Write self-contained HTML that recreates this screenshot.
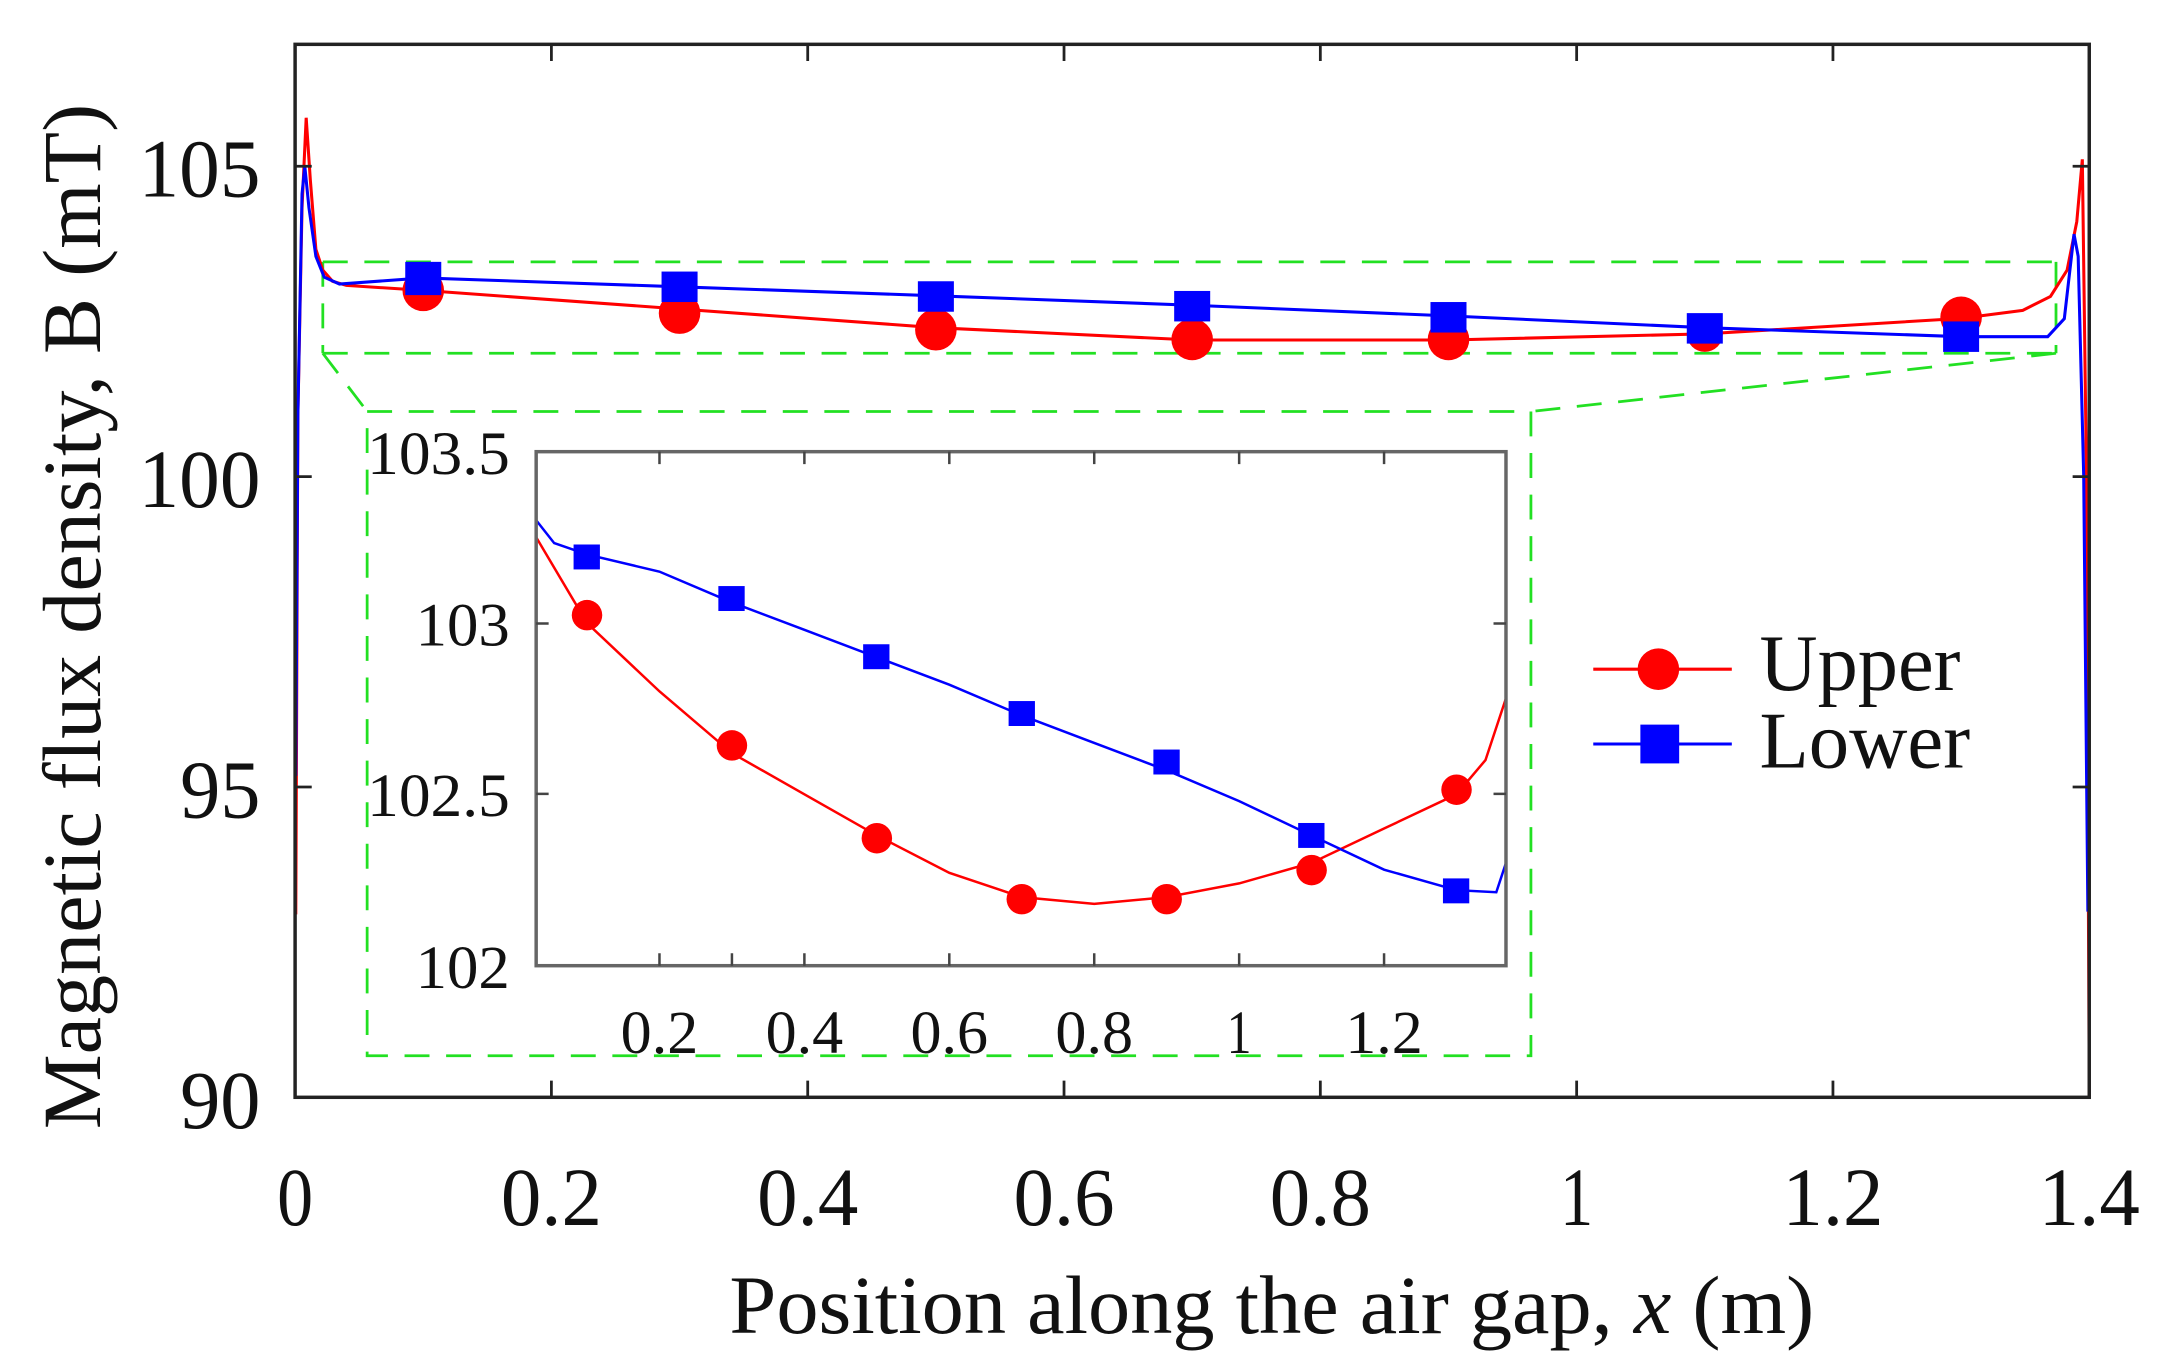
<!DOCTYPE html>
<html><head><meta charset="utf-8"><style>
html,body{margin:0;padding:0;background:#fff;}
svg{display:block;}
text{font-family:"Liberation Serif",serif;fill:#111;}
</style></head><body>
<svg width="2171" height="1360" viewBox="0 0 1567 981.6" preserveAspectRatio="none" xmlns="http://www.w3.org/2000/svg">
<rect width="1567" height="981.6" fill="#fff"/>
<g stroke="#22e022" stroke-width="2" fill="none" stroke-dasharray="18,12">
<path d="M233,189 H1484 M233,255 H1484 M233,189 V255 M1484,189 V255"/>
<path d="M233,255 L265,297 M1484,255 L1105,297"/>
<rect x="265" y="297" width="840" height="465"/>
</g>
<polyline fill="none" stroke="#ff0000" stroke-width="2.2" points="213.5,660 215,300 218,150 221,85 224,130 228,180 233,195 240,203 250,206 305.5,209.6 490.5,223 675.5,236.5 860.5,245.4 1045.5,245.4 1230.5,241 1415.5,229.8 1460,224 1480,214 1492,195 1499,160 1503,115 1506,344 1508,792"/>
<polyline fill="none" stroke="#0000ff" stroke-width="2.2" points="213.5,560 215,300 218,140 220,120 223,150 228,185 234,200 245,205 305.5,200.6 490.5,207 675.5,213.5 860.5,220.3 1045.5,228 1230.5,236.5 1415.5,243 1478,243 1490,230 1497,169 1500,185 1504,344 1507,658"/>
<g fill="#ff0000">
<circle cx="305.5" cy="209.6" r="15"/><circle cx="490.5" cy="226" r="15"/><circle cx="675.5" cy="238" r="15"/><circle cx="860.5" cy="245" r="15"/><circle cx="1045.5" cy="245" r="15"/><circle cx="1230.5" cy="241" r="13"/><circle cx="1415.5" cy="229" r="15"/>
</g>
<g fill="#0000ff">
<rect x="292.5" y="189" width="26" height="24"/><rect x="477.5" y="196" width="26" height="22"/><rect x="662.5" y="203" width="26" height="22"/><rect x="847.5" y="210" width="26" height="22"/><rect x="1032.5" y="218" width="26" height="22"/><rect x="1217.5" y="226" width="26" height="22"/><rect x="1402.5" y="232" width="26" height="22"/>
</g>
<rect x="213" y="32" width="1295" height="760" fill="none" stroke="#222" stroke-width="2.5"/>
<g stroke="#222" stroke-width="2">
<path d="M398,792 v-12 M583,792 v-12 M768,792 v-12 M953,792 v-12 M1138,792 v-12 M1323,792 v-12 M398,32 v12 M583,32 v12 M768,32 v12 M953,32 v12 M1138,32 v12 M1323,32 v12"/>
<path d="M213,120 h12 M213,344 h12 M213,568 h12 M1508,120 h-12 M1508,344 h-12 M1508,568 h-12"/>
</g>
<g font-size="60" text-anchor="middle">
<text x="213" y="884" textLength="26" lengthAdjust="spacingAndGlyphs">0</text>
<text x="398" y="884" textLength="73" lengthAdjust="spacingAndGlyphs">0.2</text>
<text x="583" y="884" textLength="73" lengthAdjust="spacingAndGlyphs">0.4</text>
<text x="768" y="884" textLength="73" lengthAdjust="spacingAndGlyphs">0.6</text>
<text x="953" y="884" textLength="73" lengthAdjust="spacingAndGlyphs">0.8</text>
<text x="1138" y="884" textLength="24" lengthAdjust="spacingAndGlyphs">1</text>
<text x="1323" y="884" textLength="73" lengthAdjust="spacingAndGlyphs">1.2</text>
<text x="1508" y="884" textLength="73" lengthAdjust="spacingAndGlyphs">1.4</text>
</g>
<g font-size="60" text-anchor="end">
<text x="188" y="142" textLength="88" lengthAdjust="spacingAndGlyphs">105</text>
<text x="188" y="366" textLength="88" lengthAdjust="spacingAndGlyphs">100</text>
<text x="188" y="590" textLength="58" lengthAdjust="spacingAndGlyphs">95</text>
<text x="188" y="814" textLength="58" lengthAdjust="spacingAndGlyphs">90</text>
</g>
<text x="918" y="962" font-size="60" text-anchor="middle" textLength="783" lengthAdjust="spacingAndGlyphs">Position along the air gap, <tspan font-style="italic">x</tspan> (m)</text>
<text transform="translate(72,445) rotate(-90)" font-size="60" text-anchor="middle" textLength="740" lengthAdjust="spacingAndGlyphs">Magnetic flux density, B (mT)</text>
<rect x="387" y="326" width="700" height="371" fill="#fff"/>
<polyline fill="none" stroke="#ff0000" stroke-width="1.8" points="387,387.8 423.7,449.7 476,499 528.3,543.6 580.6,573.3 632.9,603 685.2,630 737.5,647.5 789.8,652.4 842.1,647.5 894.4,637.6 946.7,622.8 999,598 1051.3,573.3 1072.2,548.6 1087,504"/>
<polyline fill="none" stroke="#0000ff" stroke-width="1.8" points="387,375.5 400,392 423.7,400.2 476,412.6 528.3,434.8 580.6,454.6 632.9,474.4 685.2,494.2 737.5,516.4 789.8,536.2 842.1,556 894.4,578.2 946.7,603 999,627.7 1051.3,642.5 1080,644 1087,622.8"/>
<g fill="#ff0000">
<circle cx="423.7" cy="444" r="11"/><circle cx="528.3" cy="538" r="11"/><circle cx="632.9" cy="605" r="11"/><circle cx="737.5" cy="649" r="11"/><circle cx="842.1" cy="649" r="11"/><circle cx="946.7" cy="628" r="11"/><circle cx="1051.3" cy="570" r="11"/>
</g>
<g fill="#0000ff">
<rect x="414" y="393" width="19" height="18"/><rect x="518.5" y="423" width="19" height="18"/><rect x="623" y="465" width="19" height="18"/><rect x="728" y="506" width="19" height="18"/><rect x="832.5" y="541" width="19" height="18"/><rect x="937" y="594" width="19" height="18"/><rect x="1041.5" y="634" width="19" height="18"/>
</g>
<rect x="387" y="326" width="700" height="371" fill="none" stroke="#666" stroke-width="2.5"/>
<g stroke="#444" stroke-width="1.8">
<path d="M476,697 v-9 M528.3,697 v-9 M580.6,697 v-9 M685.2,697 v-9 M789.8,697 v-9 M894.4,697 v-9 M999,697 v-9 M476,326 v9 M580.6,326 v9 M685.2,326 v9 M789.8,326 v9 M894.4,326 v9 M999,326 v9"/>
<path d="M387,450 h9 M387,573 h9 M1087,450 h-9 M1087,573 h-9"/>
</g>
<g font-size="44" text-anchor="middle">
<text x="476" y="760" textLength="56" lengthAdjust="spacingAndGlyphs">0.2</text>
<text x="580.6" y="760" textLength="56" lengthAdjust="spacingAndGlyphs">0.4</text>
<text x="685.2" y="760" textLength="56" lengthAdjust="spacingAndGlyphs">0.6</text>
<text x="789.8" y="760" textLength="56" lengthAdjust="spacingAndGlyphs">0.8</text>
<text x="894.4" y="760" textLength="18" lengthAdjust="spacingAndGlyphs">1</text>
<text x="999" y="760" textLength="56" lengthAdjust="spacingAndGlyphs">1.2</text>
</g>
<g font-size="44" text-anchor="end">
<text x="368" y="342" textLength="103" lengthAdjust="spacingAndGlyphs">103.5</text>
<text x="368" y="466" textLength="68" lengthAdjust="spacingAndGlyphs">103</text>
<text x="368" y="589" textLength="103" lengthAdjust="spacingAndGlyphs">102.5</text>
<text x="368" y="713" textLength="68" lengthAdjust="spacingAndGlyphs">102</text>
</g>
<line x1="1150" y1="483" x2="1250" y2="483" stroke="#ff0000" stroke-width="2.2"/>
<circle cx="1197" cy="483" r="15" fill="#ff0000"/>
<line x1="1150" y1="537" x2="1250" y2="537" stroke="#0000ff" stroke-width="2.2"/>
<rect x="1184" y="523" width="28" height="28" fill="#0000ff"/>
<text x="1270" y="498" font-size="58" textLength="145" lengthAdjust="spacingAndGlyphs">Upper</text>
<text x="1270" y="554" font-size="58" textLength="152" lengthAdjust="spacingAndGlyphs">Lower</text>
</svg>
</body></html>
